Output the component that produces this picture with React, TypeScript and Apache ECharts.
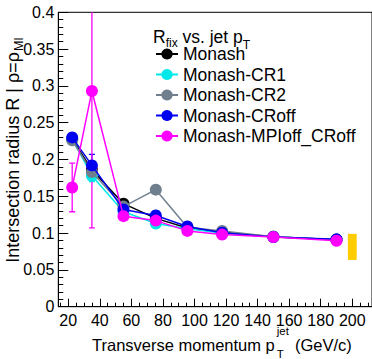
import React, { useEffect, useRef } from "react";
import * as echarts from "echarts";

// ---- data ----
const ptBins = [22.5, 35, 55, 75.5, 95.5, 117.5, 150, 190];
const seriesNames = ["Monash", "Monash-CR1", "Monash-CR2", "Monash-CRoff", "Monash-MPIoff_CRoff"];
const monash = [0.228, 0.186, 0.14, 0.12, 0.107, 0.101, 0.095, 0.091];
const monashErr = [0.004, 0.008, 0.003, 0.003, 0.002, 0.002, 0.001, 0.001];
const cr1 = [0.228, 0.178, 0.129, 0.113, 0.106, 0.1, 0.095, 0.091];
const cr1Err = [0.004, 0.008, 0.003, 0.003, 0.002, 0.002, 0.001, 0.001];
const cr2 = [0.226, 0.183, 0.136, 0.159, 0.108, 0.103, 0.095, 0.091];
const cr2Err = [0.004, 0.008, 0.003, 0.005, 0.002, 0.002, 0.001, 0.001];
const croff = [0.23, 0.192, 0.132, 0.124, 0.109, 0.1005, 0.0947, 0.0915];
const croffErr = [0.004, 0.015, 0.003, 0.006, 0.002, 0.002, 0.001, 0.001];
const mpioff = [0.162, 0.293, 0.123, 0.117, 0.103, 0.098, 0.0947, 0.0897];
const mpioffErr = [0.033, 0.186, 0.003, 0.003, 0.002, 0.002, 0.001, 0.001];
const sysX = [200];
const sysLow = [0.0635];
const sysHigh = [0.099];
const xMajorTicks = [20, 40, 60, 80, 100, 120, 140, 160, 180, 200];
const xMinorTicks = [15, 25, 30, 35, 45, 50, 55, 65, 70, 75, 85, 90, 95, 105, 110, 115, 125, 130, 135, 145, 150, 155, 165, 170, 175, 185, 190, 195, 205, 210];

const FONT = '"Liberation Sans", Arial, Helvetica, sans-serif';
const colors = ["#000000", "#00e8e8", "#707f8e", "#0000f0", "#ff00ff"];
const values = [monash, cr1, cr2, croff, mpioff];
const errors = [monashErr, cr1Err, cr2Err, croffErr, mpioffErr];

const X_MIN = 13.7;
const X_MAX = 212.5;

function measure(text: string, size: number) {
  const c = document.createElement("canvas").getContext("2d")!;
  c.font = `${size}px "Liberation Sans"`;
  return c.measureText(text).width;
}

type Part = { t: string; s: number; dy: number; gap?: number; sameX?: boolean };
function layoutParts(x0: number, y0: number, parts: Part[]) {
  const out: any[] = [];
  let x = x0;
  let prevX = x0;
  for (const p of parts) {
    const px = p.sameX ? prevX : x + (p.gap || 0);
    out.push({
      type: "text",
      x: px,
      y: y0 + p.dy,
      silent: true,
      style: { text: p.t, fontSize: p.s, fontFamily: FONT, fill: "#000", align: "left", verticalAlign: "middle" },
    });
    const w = measure(p.t, p.s);
    if (!p.sameX) {
      prevX = px;
      x = px + w;
    } else {
      x = Math.max(x, px + w);
    }
  }
  return { els: out, width: x - x0 };
}

export default function App() {
  const ref = useRef<HTMLDivElement>(null);
  useEffect(() => {
    if (!ref.current) return;
    const chart = echarts.init(ref.current, undefined, { renderer: "svg" });

    const errSeries = values.map((vals, i) => ({
      type: "custom",
      name: "err" + i,
      clip: true,
      silent: true,
      z: 1,
      data: ptBins.map((x, k) => [x, vals[k], errors[i][k]]),
      renderItem: (params: any, api: any) => {
        const x = api.value(0);
        const y = api.value(1);
        const e = api.value(2);
        const top = api.coord([x, y + e]);
        const bot = api.coord([x, y - e]);
        const st = { stroke: colors[i], lineWidth: 1.3 };
        return {
          type: "group",
          children: [
            { type: "line", shape: { x1: top[0], y1: top[1], x2: bot[0], y2: bot[1] }, style: st },
            { type: "line", shape: { x1: top[0] - 3, y1: top[1], x2: top[0] + 3, y2: top[1] }, style: st },
            { type: "line", shape: { x1: bot[0] - 3, y1: bot[1], x2: bot[0] + 3, y2: bot[1] }, style: st },
          ],
        };
      },
    }));

    const lineSeries = values.map((vals, i) => ({
      type: "line",
      name: seriesNames[i],
      data: ptBins.map((x, k) => [x, vals[k]]),
      symbol: "circle",
      symbolSize: 12,
      color: colors[i],
      lineStyle: { color: colors[i], width: 1.5 },
      itemStyle: { color: colors[i] },
      z: 2 + i,
      xAxisIndex: 0,
    }));

    const sysSeries = {
      type: "custom",
      name: "sys",
      silent: true,
      z: 1,
      data: sysX.map((x, k) => [x, sysLow[k], sysHigh[k]]),
      renderItem: (params: any, api: any) => {
        const x = api.value(0);
        const p1 = api.coord([x - 2.8, api.value(2)]);
        const p2 = api.coord([x + 2.8, api.value(1)]);
        return {
          type: "rect",
          shape: { x: p1[0], y: p1[1], width: p2[0] - p1[0], height: p2[1] - p1[1] },
          style: { fill: "#ffcc00" },
        };
      },
    };

    // titles
    const xTitle = layoutParts(92, 345, [
      { t: "Transverse momentum p", s: 16.5, dy: 0 },
      { t: "jet", s: 11.5, dy: -14, gap: 2 },
      { t: "T", s: 11.5, dy: 9, sameX: true },
      { t: "(GeV/c)", s: 16.5, dy: 0, gap: 6 },
    ]);
    const yParts: Part[] = [
      { t: "Intersection radius R | \u03C1=\u03C1", s: 18, dy: 0 },
      { t: "MI", s: 12.5, dy: 6, gap: 1 },
    ];
    const yMeasure = layoutParts(0, 0, yParts);
    const yTitle = layoutParts(-yMeasure.width / 2, 0, yParts);
    const legTitle = layoutParts(153, 37, [
      { t: "R", s: 17.5, dy: 0 },
      { t: "fix", s: 12, dy: 6 },
      { t: " vs. jet p", s: 17.5, dy: 0 },
      { t: "T", s: 12, dy: 8 },
    ]);

    chart.setOption({
      animation: false,
      backgroundColor: "#fff",
      textStyle: { fontFamily: FONT },
      grid: {
        left: 58.3,
        top: 12.3,
        right: -1,
        bottom: 52.3,
        show: true,
        borderColor: "#000",
        borderWidth: 1,
        backgroundColor: "transparent",
      },
      legend: {
        orient: "vertical",
        left: 155,
        top: 45,
        padding: 0,
        itemWidth: 22,
        itemHeight: 14,
        itemGap: 2.5,
        data: seriesNames,
        textStyle: { fontSize: 17.5, lineHeight: 14, fontFamily: FONT, color: "#000" },
      },
      xAxis: [
        {
          type: "value",
          min: X_MIN,
          max: X_MAX,
          axisLine: { show: true, lineStyle: { color: "#000", width: 1 } },
          axisTick: { show: true, inside: true, length: 8, customValues: xMajorTicks, lineStyle: { color: "#000" } },
          axisLabel: { show: true, customValues: xMajorTicks, fontSize: 16, color: "#000", margin: 6, fontFamily: FONT },
          splitLine: { show: false },
        },
        {
          type: "value",
          min: X_MIN,
          max: X_MAX,
          position: "bottom",
          axisLine: { show: false },
          axisTick: { show: true, inside: true, length: 4, customValues: xMinorTicks, lineStyle: { color: "#000" } },
          axisLabel: { show: false },
          splitLine: { show: false },
        },
      ],
      yAxis: {
        type: "value",
        min: 0,
        max: 0.4,
        interval: 0.05,
        axisLine: { show: true, lineStyle: { color: "#000", width: 1 } },
        axisTick: { show: true, inside: true, length: 10, lineStyle: { color: "#000" } },
        minorTick: { show: true, splitNumber: 5, length: 5, lineStyle: { color: "#000" } },
        axisLabel: {
          fontSize: 16,
          color: "#000",
          margin: 4,
          fontFamily: FONT,
          formatter: (v: number) => String(+v.toFixed(2)),
        },
        splitLine: { show: false },
      },
      graphic: [
        ...xTitle.els,
        { type: "group", x: 13, y: 150, rotation: Math.PI / 2, children: yTitle.els },
        ...legTitle.els,
      ],
      series: [sysSeries, ...errSeries, ...lineSeries],
    });
    return () => chart.dispose();
  }, []);
  return <div ref={ref} style={{ width: 372, height: 359, position: "absolute", left: 0, top: 0 }} />;
}
